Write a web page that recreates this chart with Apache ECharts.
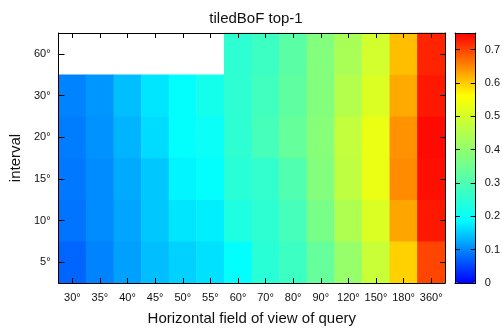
<!DOCTYPE html>
<html>
<head>
<meta charset="utf-8">
<script src="https://cdn.jsdelivr.net/npm/echarts@6/dist/echarts.min.js"></script>
<style>
  html, body { margin: 0; padding: 0; background: #fff; }
  #chart { width: 503px; height: 331px; }
</style>
</head>
<body>
<div id="chart"></div>
<script>
// field of view of the query (x) and interval (y)
const fovLabels = ['30°', '35°', '40°', '45°', '50°', '55°', '60°', '70°', '80°', '90°', '120°', '150°', '180°', '360°'];
const intervalLabels = ['5°', '10°', '15°', '20°', '30°', '60°'];

// top-1 values, one row per interval (null = not measured)
const row5 = [0.074, 0.096, 0.118, 0.140, 0.154, 0.165, 0.190, 0.246, 0.276, 0.335, 0.408, 0.482, 0.596, 0.699];
const row10 = [0.085, 0.103, 0.121, 0.147, 0.169, 0.176, 0.232, 0.254, 0.290, 0.364, 0.445, 0.511, 0.629, 0.732];
const row15 = [0.088, 0.103, 0.125, 0.147, 0.180, 0.190, 0.246, 0.261, 0.305, 0.379, 0.467, 0.533, 0.647, 0.739];
const row20 = [0.092, 0.107, 0.132, 0.162, 0.190, 0.200, 0.254, 0.290, 0.335, 0.386, 0.474, 0.533, 0.643, 0.743];
const row30 = [0.096, 0.110, 0.140, 0.169, 0.190, 0.217, 0.254, 0.283, 0.327, 0.379, 0.452, 0.511, 0.625, 0.732];
const row60 = [null, null, null, null, null, null, 0.254, 0.276, 0.320, 0.379, 0.437, 0.496, 0.610, 0.724];

// colour bar ticks
const cbTicks = [0, 0.1, 0.2, 0.3, 0.4, 0.5, 0.6, 0.7];

const rows = [row5, row10, row15, row20, row30, row60];
let cells = [];
rows.forEach((row, yi) => {
  row.forEach((v, xi) => {
    if (v !== null) cells.push([xi, yi, v]);
  });
});

const font = 'Liberation Sans, Arial, sans-serif';
const txt = '#111';

let chart = echarts.init(document.getElementById('chart'));

let tick = len => ({ show: true, inside: true, alignWithLabel: true, interval: 0, length: len, lineStyle: { color: '#000', width: 1 } });
let line = () => ({ show: true, onZero: false, lineStyle: { color: '#000', width: 1 } });
let noLabel = () => ({ show: false });

// frame of the colour bar (top / bottom edges)
let cbFrame = pos => ({
  type: 'value', gridIndex: 1, min: 0, max: 1, position: pos, z: 10,
  axisLine: line(), axisTick: { show: false }, axisLabel: noLabel(), splitLine: { show: false }
});
// colour bar value axis (left / right edges)
let cbAxis = (pos, label) => ({
  type: 'value', gridIndex: 1, min: 0, max: 0.75, interval: 0.1, position: pos, z: 10,
  axisLine: line(),
  axisTick: { show: true, inside: true, length: 5, lineStyle: { color: '#000', width: 1 } },
  axisLabel: label,
  splitLine: { show: false }
});

let option = {
  animation: false,
  backgroundColor: '#fff',
  title: {
    text: 'tiledBoF top-1',
    left: 251,
    top: 6,
    textAlign: 'center',
    textStyle: { fontFamily: font, fontSize: 15, fontWeight: 'normal', color: txt }
  },
  grid: [
    { left: 58, top: 33, width: 387, height: 250 },
    { left: 455, top: 33, width: 21, height: 250 }
  ],
  xAxis: [
    {
      type: 'category', data: fovLabels, gridIndex: 0, position: 'bottom', z: 10,
      axisLine: line(), axisTick: tick(5), splitLine: { show: false },
      name: 'Horizontal field of view of query',
      nameLocation: 'middle',
      nameGap: 28,
      nameTextStyle: { fontFamily: font, fontSize: 15, color: txt },
      axisLabel: { fontFamily: font, fontSize: 11, color: txt, margin: 9, interval: 0 }
    },
    {
      type: 'category', data: fovLabels, gridIndex: 0, position: 'top', z: 10,
      axisLine: line(), axisTick: tick(5), axisLabel: noLabel(), splitLine: { show: false }
    },
    cbFrame('bottom'),
    cbFrame('top')
  ],
  yAxis: [
    {
      type: 'category', data: intervalLabels, gridIndex: 0, position: 'left', z: 10,
      axisLine: line(), axisTick: tick(6), splitLine: { show: false },
      name: 'interval',
      nameLocation: 'middle',
      nameGap: 19,
      nameTextStyle: { fontFamily: font, fontSize: 15, color: txt },
      axisLabel: { fontFamily: font, fontSize: 11, color: txt, margin: 8, interval: 0 }
    },
    {
      type: 'category', data: intervalLabels, gridIndex: 0, position: 'right', z: 10,
      axisLine: line(), axisTick: tick(5), axisLabel: noLabel(), splitLine: { show: false }
    },
    cbAxis('left', noLabel()),
    cbAxis('right', {
      fontFamily: font, fontSize: 11, color: txt, margin: 9, showMaxLabel: false,
      formatter: v => {
        let r = Math.round(v * 10) / 10;
        return cbTicks.indexOf(r) >= 0 && Math.abs(r - v) < 1e-6 ? String(r) : '';
      }
    })
  ],
  visualMap: {
    type: 'continuous',
    min: 0,
    max: 0.75,
    seriesIndex: 0,
    calculable: false,
    hoverLink: false,
    orient: 'vertical',
    left: 455,
    top: 33,
    z: 1,
    padding: 0,
    itemWidth: 21,
    itemHeight: 250,
    text: null,
    showLabel: false,
    inRange: { color: ['#0000ff', '#00ffff', '#80ff80', '#ffff00', '#ff0000'] }
  },
  series: [{
    type: 'heatmap',
    xAxisIndex: 0,
    yAxisIndex: 0,
    data: cells,
    itemStyle: { borderWidth: 0 },
    emphasis: { disabled: true }
  }]
};

chart.setOption(option);
</script>
</body>
</html>
